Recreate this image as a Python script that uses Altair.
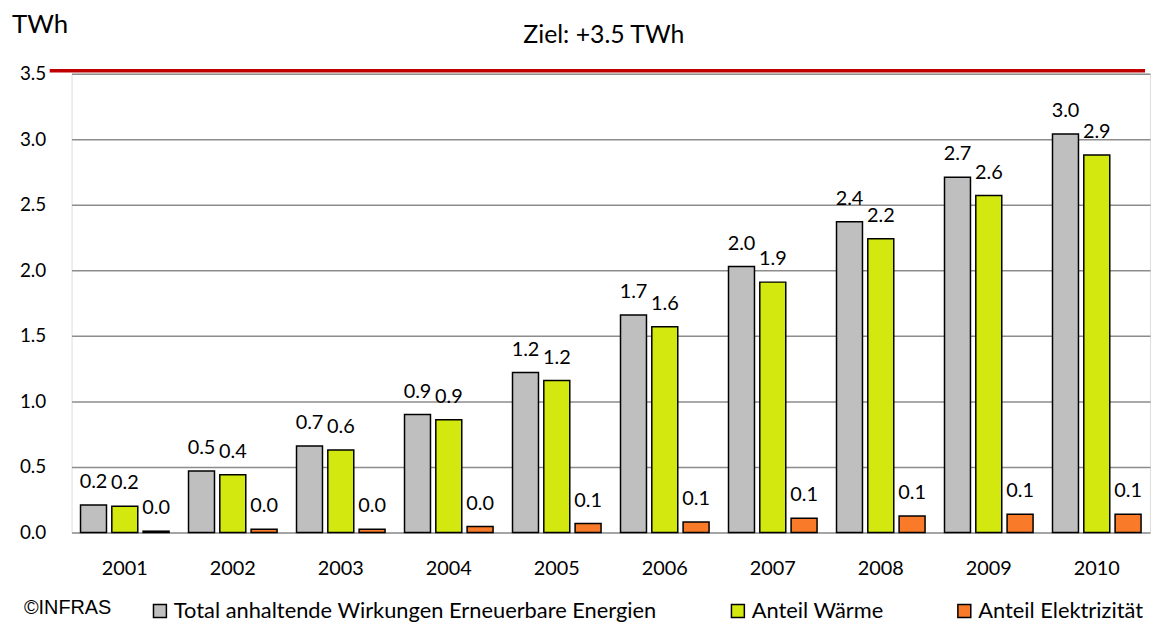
import altair as alt
import pandas as pd

years = ["2001", "2002", "2003", "2004", "2005", "2006", "2007", "2008", "2009", "2010"]
series = ["Total anhaltende Wirkungen Erneuerbare Energien", "Anteil Wärme", "Anteil Elektrizität"]
total = [0.21, 0.47, 0.66, 0.90, 1.22, 1.66, 2.03, 2.37, 2.71, 3.04]
waerme = [0.20, 0.44, 0.63, 0.86, 1.16, 1.57, 1.91, 2.24, 2.57, 2.88]
elektro = [0.01, 0.025, 0.025, 0.045, 0.068, 0.08, 0.108, 0.126, 0.139, 0.139]
colors = ["#BFBFBF", "#D2E80F", "#F97A28"]
target = 3.5

rows = []
for i, y in enumerate(years):
    for s, vals in zip(series, [total, waerme, elektro]):
        rows.append({"Jahr": y, "Serie": s, "TWh": vals[i]})
df = pd.DataFrame(rows)

FONT = "Lato"
W, H = 1086, 462

x = alt.X("Jahr:N", sort=years, title=None,
          scale=alt.Scale(paddingInner=0.18, paddingOuter=0.083),
          axis=alt.Axis(labelAngle=0, ticks=False, domain=False, labelPadding=26,
                        labelFontSize=20, labelFont=FONT, labelColor="black"))
xo = alt.XOffset("Serie:N", sort=series,
                 scale=alt.Scale(paddingInner=0.17, paddingOuter=0))
y = alt.Y("TWh:Q", title=None,
          scale=alt.Scale(domain=[0, 3.5], nice=False),
          axis=alt.Axis(values=[0, 0.5, 1, 1.5, 2, 2.5, 3, 3.5], format=".1f",
                        ticks=False, tickSize=0, domain=False, labelPadding=26,
                        labelFontSize=19, labelFont=FONT, labelColor="black",
                        grid=True, gridColor="#8C8C8C", gridWidth=1.5))

bars = alt.Chart(df).mark_bar(stroke="black", strokeWidth=1.5).encode(
    x=x, xOffset=xo, y=y,
    color=alt.Color("Serie:N", sort=series,
                    scale=alt.Scale(domain=series, range=colors),
                    legend=alt.Legend(title=None, orient="none", legendX=78, legendY=530,
                                      direction="horizontal", symbolType="square",
                                      symbolSize=169, symbolStrokeColor="black",
                                      symbolStrokeWidth=1.5, labelFontSize=22,
                                      labelFont=FONT, labelColor="black", labelLimit=0,
                                      columnPadding=70, labelOffset=3)),
)

labels = alt.Chart(df).mark_text(baseline="bottom", dy=-13, fontSize=20, font=FONT,
                                 color="black").encode(
    x=alt.X("Jahr:N", sort=years), xOffset=alt.XOffset("Serie:N", sort=series),
    y="TWh:Q", text=alt.Text("TWh:Q", format=".1f"),
)

rule = alt.Chart(pd.DataFrame({"Ziel": [target]})).mark_rule(
    color="#C00000", strokeWidth=3.5, yOffset=-3).encode(
    y="Ziel:Q", x=alt.value(-22), x2=alt.value(1081))

txt = pd.DataFrame({"t": ["x"]})
ziel = alt.Chart(txt).mark_text(text="Ziel: +3.5 TWh", fontSize=25, font=FONT,
                                color="black", align="center", baseline="middle").encode(
    x=alt.value(536), y=alt.value(-39))
twh = alt.Chart(txt).mark_text(text="TWh", fontSize=26, font=FONT, color="black",
                               align="left", baseline="middle").encode(
    x=alt.value(-60), y=alt.value(-49))
infras = alt.Chart(txt).mark_text(text="©INFRAS", fontSize=20, font="Liberation Sans",
                                  color="black", align="left", baseline="middle").encode(
    x=alt.value(-48), y=alt.value(538))

chart = alt.layer(bars, labels, rule, ziel, twh, infras).properties(
    width=W, height=H,
    autosize=alt.AutoSizeParams(type="none"),
    padding={"left": 64, "top": 64, "right": 3, "bottom": 91},
).configure_view(stroke=None).configure(background="white")

chart.save("out.html", embed_options={"renderer": "svg", "actions": False})
